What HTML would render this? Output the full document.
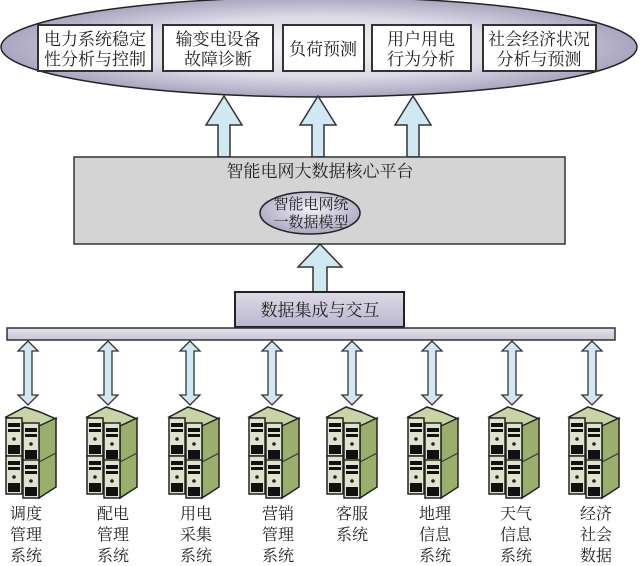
<!DOCTYPE html>
<html><head><meta charset="utf-8"><style>
html,body{margin:0;padding:0;background:#fff;width:640px;height:566px;overflow:hidden}
svg text{font-family:"Liberation Serif","Noto Serif CJK SC",serif;fill:#222}
</style></head><body>
<svg width="640" height="566" viewBox="0 0 640 566" xmlns="http://www.w3.org/2000/svg">
<defs>
<radialGradient id="eg" cx="0.5" cy="0.5" r="0.5">
<stop offset="0" stop-color="#f4f4f8"/><stop offset="0.6" stop-color="#dcdbe6"/><stop offset="1" stop-color="#a9a5bf"/>
</radialGradient>
<radialGradient id="ig" cx="0.5" cy="0.4" r="0.6">
<stop offset="0" stop-color="#f0eff5"/><stop offset="1" stop-color="#aaa6c0"/>
</radialGradient>
<linearGradient id="dg" x1="0" y1="0" x2="0" y2="1">
<stop offset="0" stop-color="#dcd9e6"/><stop offset="1" stop-color="#bcb7d0"/>
</linearGradient>
<linearGradient id="bg" x1="0" y1="0" x2="0" y2="1">
<stop offset="0" stop-color="#e4e2ec"/><stop offset="1" stop-color="#c8c5d6"/>
</linearGradient>
<g id="unit">
<rect x="0" y="0" width="16" height="38" fill="#dfe3cc" stroke="#222" stroke-width="1.5"/>
<rect x="2" y="5" width="12" height="4" fill="#111"/>
<rect x="2" y="11" width="12" height="3" fill="#111"/>
<circle cx="8" cy="21" r="1.8" fill="#222"/>
<rect x="2" y="27" width="12" height="9" fill="#111"/>
</g>
<g id="srv">
<polygon points="0,12 19,2 34,7 50,14 33,23 17,18" fill="#c9d3a4" stroke="#222" stroke-width="1.5"/>
<use href="#unit" x="0" y="13"/>
<use href="#unit" x="0" y="51"/>
<polygon points="33,21 50,13 50,82 33,93" fill="#9cae6c" stroke="#222" stroke-width="1.5"/>
<line x1="33" y1="57" x2="50" y2="48" stroke="#333" stroke-width="1"/>
<use href="#unit" x="17" y="18"/>
<use href="#unit" x="17" y="55"/>
</g>
<g id="darr">
<polygon points="0,0 -10,10 -4,10 -4,54 -10,54 0,64 10,54 4,54 4,10 10,10" fill="#cfe8f2" stroke="#333" stroke-width="1.3"/>
</g>
</defs>

<ellipse cx="319" cy="47" rx="318" ry="50" fill="url(#eg)" stroke="#222" stroke-width="1.5"/>
<g fill="#fff" stroke="#333" stroke-width="2">
<rect x="38" y="25" width="114" height="46"/>
<rect x="163" y="25" width="110" height="46"/>
<rect x="283" y="25" width="81" height="46"/>
<rect x="372" y="25" width="99" height="46"/>
<rect x="483" y="25" width="113" height="46"/>
</g>
<g font-size="17" text-anchor="middle">
<text x="95" y="45">电力系统稳定</text><text x="95" y="65">性分析与控制</text>
<text x="218" y="45">输变电设备</text><text x="218" y="65">故障诊断</text>
<text x="323" y="55">负荷预测</text>
<text x="421" y="45">用户用电</text><text x="421" y="65">行为分析</text>
<text x="539" y="45">社会经济状况</text><text x="539" y="65">分析与预测</text>
</g>

<g fill="#cfe8f2" stroke="#333" stroke-width="1.5">
<polygon points="224,96 242,125 230,125 230,157 218,157 218,125 206,125"/>
<polygon points="318,96 336,125 324,125 324,157 312,157 312,125 300,125"/>
<polygon points="413,96 431,125 419,125 419,157 407,157 407,125 395,125"/>
</g>

<rect x="74" y="157" width="491" height="87" fill="#d4d4d4" stroke="#333" stroke-width="1.5"/>
<text x="320" y="177" font-size="17" text-anchor="middle">智能电网大数据核心平台</text>
<ellipse cx="310" cy="213" rx="50" ry="21" fill="url(#ig)" stroke="#222" stroke-width="1.5"/>
<g font-size="15" text-anchor="middle"><text x="311" y="209">智能电网统</text><text x="311" y="227">一数据模型</text></g>

<polygon points="320,244 342,267 327,267 327,293 313,293 313,267 298,267" fill="#cfe8f2" stroke="#333" stroke-width="1.5"/>
<rect x="235" y="292" width="169" height="35" fill="url(#dg)" stroke="#222" stroke-width="2"/>
<text x="320" y="316" font-size="17" text-anchor="middle">数据集成与交互</text>
<rect x="7" y="328" width="608" height="12" fill="url(#bg)" stroke="#333" stroke-width="1.5"/>

<use href="#darr" x="28" y="341"/><use href="#darr" x="108" y="341"/>
<use href="#darr" x="190" y="341"/><use href="#darr" x="272" y="341"/>
<use href="#darr" x="352" y="341"/><use href="#darr" x="432" y="341"/>
<use href="#darr" x="512" y="341"/><use href="#darr" x="592" y="341"/>

<use href="#srv" x="6" y="405"/><use href="#srv" x="87" y="405"/>
<use href="#srv" x="169" y="405"/><use href="#srv" x="249" y="405"/>
<use href="#srv" x="327" y="405"/><use href="#srv" x="408" y="405"/>
<use href="#srv" x="489" y="405"/><use href="#srv" x="569" y="405"/>

<g font-size="16" text-anchor="middle">
<text x="26" y="519">调度</text><text x="26" y="540">管理</text><text x="26" y="561">系统</text>
<text x="113" y="519">配电</text><text x="113" y="540">管理</text><text x="113" y="561">系统</text>
<text x="196" y="519">用电</text><text x="196" y="540">采集</text><text x="196" y="561">系统</text>
<text x="278" y="519">营销</text><text x="278" y="540">管理</text><text x="278" y="561">系统</text>
<text x="352" y="519">客服</text><text x="352" y="540">系统</text>
<text x="435" y="519">地理</text><text x="435" y="540">信息</text><text x="435" y="561">系统</text>
<text x="516" y="519">天气</text><text x="516" y="540" fill="#bbb">信息</text><text x="516" y="561">系统</text>
<text x="596" y="519">经济</text><text x="596" y="540">社会</text><text x="596" y="561">数据</text>
</g>
</svg>
</body></html>
